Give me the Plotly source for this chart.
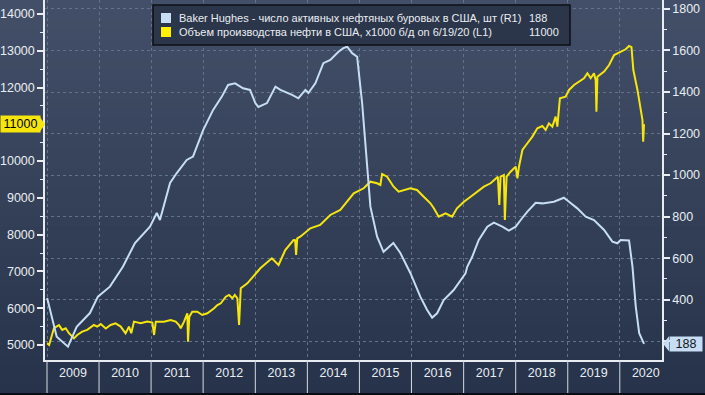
import plotly.graph_objects as go

# ---------------- data ----------------
rig_dates = ["2009-01-02", "2009-03-10", "2009-05-28", "2009-07-28", "2009-10-29", "2009-12-24",
             "2010-03-18", "2010-06-17", "2010-09-10", "2010-12-24", "2011-02-10", "2011-03-04",
             "2011-05-14", "2011-06-30", "2011-09-08", "2011-10-22", "2012-01-01", "2012-03-11",
             "2012-05-11", "2012-06-24", "2012-08-12", "2012-09-16", "2012-10-07", "2012-11-25",
             "2013-01-01", "2013-01-22", "2013-03-24", "2013-05-22", "2013-06-26", "2013-09-16",
             "2013-10-30", "2013-12-18", "2014-01-08", "2014-02-26", "2014-04-23", "2014-06-11",
             "2014-08-07", "2014-09-11", "2014-10-07", "2014-11-11", "2014-12-16", "2015-01-20",
             "2015-02-24", "2015-03-19", "2015-05-05", "2015-06-19", "2015-08-27", "2015-10-15",
             "2015-12-24", "2016-03-03", "2016-04-20", "2016-05-25", "2016-06-29", "2016-08-14",
             "2016-10-23", "2016-12-09", "2017-01-14", "2017-01-26", "2017-03-02", "2017-04-17",
             "2017-06-16", "2017-08-01", "2017-09-29", "2017-11-14", "2018-01-01", "2018-02-05",
             "2018-03-24", "2018-05-21", "2018-07-07", "2018-09-26", "2018-12-05", "2019-01-10",
             "2019-03-09", "2019-05-07", "2019-07-04", "2019-09-13", "2019-11-10", "2019-12-15",
             "2020-01-07", "2020-03-06", "2020-03-30", "2020-04-22", "2020-05-16", "2020-06-19"]
rig_count = [409, 222, 174, 270, 336, 415,
             463, 559, 673, 752, 818, 784,
             962, 1010, 1073, 1089, 1217, 1314,
             1378, 1434, 1442, 1426, 1418, 1410,
             1347, 1328, 1347, 1426, 1410, 1386,
             1370, 1410, 1395, 1442, 1539, 1554,
             1594, 1611, 1618, 1587, 1570, 1347,
             1025, 848, 704, 631, 673, 625,
             529, 415, 351, 314, 335, 399,
             447, 495, 527, 559, 607, 688,
             752, 771, 752, 733, 752, 784,
             824, 867, 864, 872, 891, 872,
             840, 800, 784, 736, 680, 672,
             688, 685, 559, 367, 239, 188]

prod_dates = ["2009-01-02", "2009-01-16", "2009-02-19", "2009-03-26", "2009-04-18", "2009-05-12",
              "2009-06-04", "2009-07-09", "2009-08-01", "2009-09-05", "2009-10-10", "2009-11-26",
              "2009-12-19", "2010-01-13", "2010-02-17", "2010-03-23", "2010-04-27", "2010-06-02",
              "2010-07-06", "2010-07-30", "2010-08-15", "2010-09-03", "2010-10-20", "2010-12-05",
              "2011-01-10", "2011-01-22", "2011-02-03", "2011-04-01", "2011-05-18", "2011-06-23",
              "2011-07-16", "2011-07-28", "2011-08-20", "2011-09-12", "2011-09-17", "2011-09-26",
              "2011-10-17", "2011-11-21", "2011-12-26", "2012-01-31", "2012-03-18", "2012-04-10",
              "2012-05-04", "2012-06-08", "2012-07-01", "2012-07-24", "2012-08-10", "2012-08-28",
              "2012-09-09", "2012-09-21", "2012-11-06", "2012-11-25", "2013-02-05", "2013-04-27",
              "2013-06-13", "2013-07-30", "2013-09-26", "2013-10-07", "2013-10-14", "2013-10-22",
              "2013-11-12", "2014-01-22", "2014-04-01", "2014-06-11", "2014-08-20", "2014-10-06",
              "2014-11-22", "2015-01-31", "2015-03-19", "2015-05-05", "2015-05-28", "2015-06-09",
              "2015-07-14", "2015-08-29", "2015-10-03", "2015-12-24", "2016-02-09", "2016-03-27",
              "2016-05-13", "2016-06-06", "2016-07-10", "2016-08-27", "2016-10-12", "2016-11-15",
              "2017-01-03", "2017-02-19", "2017-04-06", "2017-05-23", "2017-07-09", "2017-08-13",
              "2017-08-29", "2017-09-08", "2017-09-17", "2017-10-10", "2017-10-17", "2017-10-29",
              "2017-11-26", "2018-01-01", "2018-01-13", "2018-01-24", "2018-02-17", "2018-03-24",
              "2018-04-28", "2018-06-02", "2018-07-07", "2018-07-30", "2018-08-22", "2018-09-15",
              "2018-10-08", "2018-10-20", "2018-11-07", "2018-12-17", "2019-01-10", "2019-02-14",
              "2019-03-21", "2019-04-25", "2019-05-19", "2019-06-11", "2019-07-04", "2019-07-16",
              "2019-07-21", "2019-07-28", "2019-09-13", "2019-10-18", "2019-11-22", "2020-01-07",
              "2020-02-11", "2020-03-06", "2020-03-23", "2020-04-05", "2020-05-04", "2020-06-08",
              "2020-06-13", "2020-06-19"]
prod_volume = [5050, 5000, 5460, 5540, 5410, 5454,
               5320, 5180, 5272, 5362, 5410, 5544,
               5500, 5570, 5450, 5544, 5590, 5500,
               5318, 5500, 5318, 5635, 5590, 5635,
               5610, 5272, 5635, 5635, 5680, 5635,
               5544, 5454, 5635, 5862, 5090, 5770,
               5907, 5907, 5816, 5862, 5998, 6088,
               6134, 6314, 6360, 6270, 6360, 6270,
               5544, 6542, 6677, 6767, 7085, 7357,
               7175, 7583, 7855, 7850, 7447, 7900,
               7945, 8172, 8263, 8535, 8671, 8897,
               9125, 9261, 9440, 9397, 9350, 9650,
               9576, 9304, 9168, 9261, 9214, 9032,
               8853, 8717, 8488, 8580, 8488, 8717,
               8897, 9032, 9168, 9304, 9397, 9532,
               9576, 8806, 9576, 9622, 8398, 9576,
               9712, 9848, 9532, 9848, 10302, 10485,
               10666, 10892, 10955, 10845, 11027, 10936,
               11208, 10936, 11707, 11752, 11934, 12070,
               12160, 12251, 12387, 12251, 12387, 12200,
               11343, 12296, 12432, 12613, 12885, 12976,
               13040, 13130, 13100, 12477, 11934, 11117,
               10527, 11000]

year_ticks = ["2009-01-01", "2010-01-01", "2011-01-01", "2012-01-01", "2013-01-01", "2014-01-01",
              "2015-01-01", "2016-01-01", "2017-01-01", "2018-01-01", "2019-01-01", "2020-01-01"]
left_ticks = [5000, 6000, 7000, 8000, 9000, 10000, 11000, 12000, 13000, 14000]
left_ticktext = ["5000", "6000", "7000", "8000", "9000", "10000", "", "12000", "13000", "14000"]
right_ticks = [200, 400, 600, 800, 1000, 1200, 1400, 1600, 1800]
right_ticktext = ["", "400", "600", "800", "1000", "1200", "1400", "1600", "1800"]

legend_names = ["Baker Hughes - число активных нефтяных буровых в США, шт (R1)",
                "Объем производства нефти в США, x1000 б/д on 6/19/20 (L1)"]
legend_values = ["188", "11000"]
last_rig = 188
last_prod = 11000

# ---------------- styling ----------------
W, H = 705, 395
ML, MR, MT, MB = 45, 43, 0, 35
PW, PH = W - ML - MR, H - MT - MB
BLUE = "#c6ddf4"
YEL = "#f6e60c"
TXT = "#e9edf2"
GRID = "#62728b"
FONT = "Liberation Sans, Arial, sans-serif"


def px(x):
    return (x - ML) / PW


def py(y):
    return 1 - (y - MT) / PH


fig = go.Figure()
fig.add_trace(go.Scatter(x=prod_dates, y=prod_volume, yaxis="y", mode="lines",
                         line=dict(color=YEL, width=2), showlegend=False, hoverinfo="skip"))
fig.add_trace(go.Scatter(x=rig_dates, y=rig_count, yaxis="y2", mode="lines",
                         line=dict(color=BLUE, width=2), showlegend=False, hoverinfo="skip"))

shapes = []
# background gradient
top = (67, 79, 104)
bot = (38, 51, 74)
N = 40
for i in range(N):
    t = i / (N - 1)
    c = tuple(int(round(top[k] + (bot[k] - top[k]) * t)) for k in range(3))
    y0 = H * i / N
    y1 = H * (i + 1) / N + 1
    shapes.append(dict(type="rect", xref="paper", yref="paper", x0=px(-2), x1=px(W + 2),
                       y0=py(y1), y1=py(y0), fillcolor="rgb(%d,%d,%d)" % c,
                       line=dict(width=0), layer="below"))
# bottom black strip
shapes.append(dict(type="rect", xref="paper", yref="paper", x0=px(-2), x1=px(W + 2),
                   y0=py(H + 2), y1=py(393), fillcolor="#0a0d12", line=dict(width=0), layer="above"))
# year separator ticks below axis
for d in year_ticks:
    shapes.append(dict(type="line", xref="x", yref="paper", x0=d, x1=d, y0=0, y1=py(393),
                       line=dict(color="#d5dbe4", width=1), layer="above"))
# legend box
shapes.append(dict(type="rect", xref="paper", yref="paper", x0=px(153), x1=px(570),
                   y0=py(45), y1=py(5), fillcolor="#2c364a", line=dict(color="#0c0f15", width=1.5),
                   layer="above"))
shapes.append(dict(type="rect", xref="paper", yref="paper", x0=px(161), x1=px(171),
                   y0=py(23), y1=py(13), fillcolor=BLUE, line=dict(width=0), layer="above"))
shapes.append(dict(type="rect", xref="paper", yref="paper", x0=px(161), x1=px(171),
                   y0=py(37), y1=py(27), fillcolor="#fff200", line=dict(width=0), layer="above"))
# value-label pointers
hl = 8.5 * 1000 / 36.78
shapes.append(dict(type="path", xref="paper", yref="y",
                   path="M %f %f L %f %f L %f %f Z" % (px(39), last_prod + hl, px(45), last_prod,
                                                      px(39), last_prod - hl),
                   fillcolor=YEL, line=dict(width=0), layer="above"))
hr = 7.5 / 0.2077
shapes.append(dict(type="path", xref="paper", yref="y2",
                   path="M %f %f L %f %f L %f %f Z" % (px(669), last_rig + hr, px(663), last_rig,
                                                      px(669), last_rig - hr),
                   fillcolor=BLUE, line=dict(width=0), layer="above"))

annotations = []
for i, (name, val) in enumerate(zip(legend_names, legend_values)):
    yy = py(18 + 14 * i)
    annotations.append(dict(xref="paper", yref="paper", x=px(177), y=yy, xanchor="left",
                            yanchor="middle", text=name, showarrow=False,
                            font=dict(family=FONT, size=11, color=TXT)))
    annotations.append(dict(xref="paper", yref="paper", x=px(527), y=yy, xanchor="left",
                            yanchor="middle", text=val, showarrow=False,
                            font=dict(family=FONT, size=11, color=TXT)))
annotations.append(dict(xref="paper", yref="y", x=px(0), y=last_prod, xanchor="left",
                        yanchor="middle", text=str(last_prod), showarrow=False, width=39, height=16,
                        bgcolor=YEL, borderpad=0, align="center",
                        font=dict(family=FONT, size=12.5, color="#000000")))
annotations.append(dict(xref="paper", yref="y2", x=px(669), y=last_rig, xanchor="left",
                        yanchor="middle", text=str(last_rig), showarrow=False, width=32, height=14,
                        bgcolor=BLUE, borderpad=0, align="center",
                        font=dict(family=FONT, size=12.5, color="#101820")))

fig.update_layout(
    template="none",
    width=W, height=H,
    margin=dict(l=ML, r=MR, t=MT, b=MB, pad=0, autoexpand=False),
    paper_bgcolor="rgb(38,51,74)",
    plot_bgcolor="rgba(0,0,0,0)",
    showlegend=False,
    font=dict(family=FONT, size=12.5, color=TXT),
    shapes=shapes,
    annotations=annotations,
    xaxis=dict(type="date", range=["2008-12-18", "2020-10-23"], tick0="2009-01-01", dtick="M12",
               tickformat="%Y", ticklabelmode="period", ticks="", showgrid=True, gridcolor=GRID,
               griddash="3px,3px", gridwidth=1, showline=True, linecolor=TXT, linewidth=1.5,
               zeroline=False, automargin=False, tickfont=dict(size=12.5, color=TXT)),
    yaxis=dict(range=[4592, 14380], tickmode="array", tickvals=left_ticks, ticktext=left_ticktext,
               ticks="outside", ticklen=6, tickwidth=2, tickcolor=TXT, showline=True, linecolor=TXT,
               linewidth=1.5, showgrid=False, zeroline=False, automargin=False,
               tickfont=dict(size=12.5, color=TXT),
               minor=dict(tickmode="linear", tick0=0, dtick=500, ticks="outside", ticklen=3,
                          tickwidth=1, tickcolor=TXT, showgrid=False)),
    yaxis2=dict(range=[110, 1843], overlaying="y", side="right", tickmode="array",
                tickvals=right_ticks, ticktext=right_ticktext, ticks="outside", ticklen=6,
                tickwidth=2, tickcolor=TXT, showline=True, linecolor=TXT, linewidth=1.5,
                showgrid=True, gridcolor=GRID, griddash="3px,3px", gridwidth=1, zeroline=False,
                automargin=False, tickfont=dict(size=12.5, color=TXT),
                minor=dict(tickmode="linear", tick0=0, dtick=100, ticks="outside", ticklen=3,
                           tickwidth=1, tickcolor=TXT, showgrid=False)),
)

fig.write_html("out.html", config={"displayModeBar": False},
               post_script="document.body.style.margin='0';document.body.style.overflow='hidden';"
                           "document.body.style.background='rgb(38,51,74)';")
